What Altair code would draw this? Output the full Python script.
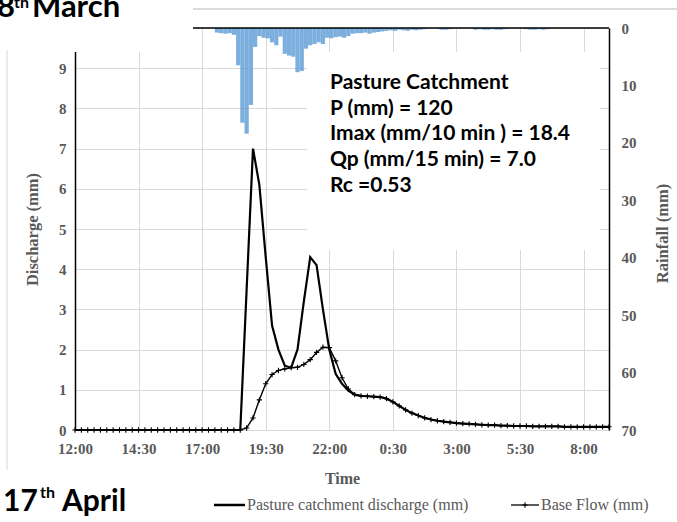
import altair as alt
import pandas as pd

# ---------------- data ----------------
# discharge / base flow every 15 min starting 12:00 (hours since 12:00)
discharge = [0.0] * 27 + [
    3.5, 7.0, 6.1, 4.3, 2.6, 2.0, 1.6, 1.55, 2.0, 3.2,
    4.3, 4.1, 3.0, 2.0, 1.4, 1.15, 0.98, 0.88, 0.85, 0.84,
    0.83, 0.82, 0.78, 0.70, 0.60, 0.50, 0.42, 0.36, 0.30, 0.26,
    0.23, 0.21, 0.19, 0.17, 0.16, 0.15, 0.14, 0.13, 0.12, 0.12,
    0.11, 0.11, 0.10, 0.10, 0.10, 0.09, 0.09, 0.09, 0.09, 0.09,
    0.08, 0.08, 0.08, 0.08, 0.08, 0.08, 0.08, 0.08,
]
baseflow = [0.0] * 27 + [
    0.05, 0.30, 0.75, 1.15, 1.38, 1.48, 1.52, 1.55, 1.56, 1.63,
    1.75, 1.93, 2.06, 2.05, 1.72, 1.30, 1.02, 0.88, 0.85, 0.84,
    0.83, 0.82, 0.78, 0.70, 0.60, 0.50, 0.42, 0.36, 0.30, 0.26,
    0.23, 0.21, 0.19, 0.17, 0.16, 0.15, 0.14, 0.13, 0.12, 0.12,
    0.11, 0.11, 0.10, 0.10, 0.10, 0.09, 0.09, 0.09, 0.09, 0.09,
    0.08, 0.08, 0.08, 0.08, 0.08, 0.08, 0.08, 0.08,
]
# rainfall every 10 min starting 17:30
rain = [
    0.8, 0.9, 1.0, 0.9, 1.2, 6.5, 16.5, 18.4, 13.4, 3.3,
    1.4, 1.7, 1.8, 2.5, 3.0, 1.5, 4.5, 4.8, 5.0, 7.7,
    7.5, 3.6, 3.0, 2.8, 2.5, 2.8, 1.7, 1.8, 1.6, 1.5,
    1.7, 1.4, 1.0, 0.9, 0.9, 0.8, 1.0, 0.8, 0.7, 0.6,
    0.5, 0.4, 0.5, 0.3, 0.4, 0.5, 0.3, 0.4, 0.3, 0.2,
    0.0, 0.0, 0.0, 0.3, 0.3, 0.2, 0.0, 0.0, 0.0, 0.0,
    0.0, 0.3, 0.2, 0.3, 0.3, 0.2, 0.3, 0.3, 0.2, 0.0,
    0.0, 0.0, 0.0, 0.2, 0.3, 0.3, 0.2, 0.3, 0.2,
]
rain_start_hour = 5.5          # 17:30
q_step_hours = 0.25            # 15 min
rain_step_hours = 1.0 / 6.0    # 10 min

x_tick_labels = ["12:00", "14:30", "17:00", "19:30", "22:00", "0:30", "3:00", "5:30", "8:00"]
x_tick_hours = [0, 2.5, 5, 7.5, 10, 12.5, 15, 17.5, 20]
y_left_ticks = [0, 1, 2, 3, 4, 5, 6, 7, 8, 9]
y_right_ticks = [0, 10, 20, 30, 40, 50, 60, 70]

series_names = ["Pasture catchment  discharge (mm)", "Base Flow (mm)"]
info_lines = [
    "Pasture Catchment",
    "P (mm) = 120",
    "Imax (mm/10 min ) = 18.4",
    "Qp (mm/15 min) = 7.0",
    "Rc =0.53",
]

flow_df = pd.DataFrame({
    "hour": [i * q_step_hours for i in range(len(discharge))],
    "Discharge": discharge,
    "Base": baseflow,
})
rain_df = pd.DataFrame({
    "start": [rain_start_hour + i * rain_step_hours for i in range(len(rain))],
    "rain": rain,
})
rain_df["end"] = rain_df["start"] + rain_step_hours

# ---------------- styles ----------------
W, H = 534, 402
SERIF = "Liberation Serif"
SANS = "Lato"
GREY = "#595959"
GRID = "#d9d9d9"
PLUS = "M0,-1V1M-1,0H1"

xscale = alt.Scale(domain=[0, 21], nice=False, zero=False)
label_expr = "[" + ",".join("'%s'" % s for s in x_tick_labels) + "][round(datum.value/2.5)]"

x_axis = alt.Axis(
    values=x_tick_hours, labelExpr=label_expr, title="Time",
    grid=True, gridColor=GRID, domainColor=GRID, ticks=False, labelFlush=False,
    labelFont=SERIF, labelFontSize=15, labelFontWeight="bold", labelColor=GREY,
    labelPadding=11, titleFont=SERIF, titleFontSize=16, titleFontWeight="bold",
    titleColor=GREY, titleX=267, titleY=48, titleBaseline="middle", titleAlign="center",
    zindex=0,
)
y_axis = alt.Axis(
    values=y_left_ticks, title="Discharge (mm)",
    grid=True, gridColor=GRID, domainColor="black", domainWidth=1.5, ticks=False,
    labelFont=SERIF, labelFontSize=15, labelFontWeight="bold", labelColor=GREY,
    labelPadding=9, labelFlush=False, titleFont=SERIF, titleFontSize=16.5, titleFontWeight="bold",
    titleColor=GREY, titleX=-43, titleY=201, titleAngle=270,
    titleBaseline="middle", titleAlign="center", zindex=0,
)
rain_axis = alt.Axis(
    orient="right", values=y_right_ticks, title="Rainfall (mm)",
    grid=False, domainColor="black", domainWidth=1.5, ticks=False,
    labelFont=SERIF, labelFontSize=15, labelFontWeight="bold", labelColor=GREY,
    labelPadding=12, labelFlush=False, titleFont=SERIF, titleFontSize=16.5, titleFontWeight="bold",
    titleColor=GREY, titleX=53, titleY=205, titleAngle=270,
    titleBaseline="middle", titleAlign="center", zindex=0,
)

one = pd.DataFrame({"k": [0]})

# white boxes (composite look of the original figure)
cover_top_left = alt.Chart(one).mark_rect(color="white").encode(
    x=alt.value(-2), x2=alt.value(118), y=alt.value(-1), y2=alt.value(24))
info_box = alt.Chart(one).mark_rect(color="white").encode(
    x=alt.value(232), x2=alt.value(525), y=alt.value(24), y2=alt.value(222))

top_grey = alt.Chart(one).mark_rule(color="#dcdcdc", strokeWidth=2).encode(
    x=alt.value(118), x2=alt.value(602), y=alt.value(-19))
left_grey = alt.Chart(one).mark_rule(color="#e3e3e3", strokeWidth=1.5).encode(
    x=alt.value(-68), y=alt.value(22), y2=alt.value(442))
top_black = alt.Chart(one).mark_rule(color="black", strokeWidth=1.5).encode(
    x=alt.value(118), x2=alt.value(534), y=alt.value(0))

bars = alt.Chart(rain_df).mark_bar(color="#5b9bd5", opacity=0.8).encode(
    x=alt.X("start:Q", scale=xscale, axis=x_axis),
    x2="end:Q",
    y=alt.Y("rain:Q", scale=alt.Scale(domain=[0, 70], reverse=True, nice=False), axis=rain_axis),
    y2=alt.datum(0),
)

yscale = alt.Scale(domain=[0, 10], nice=False)
q_line = alt.Chart(flow_df).mark_line(color="black", strokeWidth=2.2).encode(
    x=alt.X("hour:Q", scale=xscale, axis=x_axis),
    y=alt.Y("Discharge:Q", scale=yscale, axis=y_axis),
)
b_line = alt.Chart(flow_df).mark_line(color="black", strokeWidth=1.4).encode(
    x="hour:Q", y="Base:Q")
b_pts = alt.Chart(flow_df).mark_point(
    shape=PLUS, size=28, color="black", strokeWidth=1.1, filled=False, opacity=1
).encode(x="hour:Q", y="Base:Q")
flow = alt.layer(q_line, b_line, b_pts)

info = alt.Chart(pd.DataFrame({"t": ["\n".join(info_lines)]})).mark_text(
    align="left", baseline="top", font=SANS, fontSize=21, fontWeight="bold",
    color="black", lineBreak="\n", lineHeight=25.7,
).encode(x=alt.value(255), y=alt.value(44), text="t:N")

def txt(s, x, y, size, **kw):
    return alt.Chart(pd.DataFrame({"t": [s]})).mark_text(
        align="left", baseline="alphabetic", font=SANS, fontWeight="bold",
        fontSize=size, color="black", **kw
    ).encode(x=alt.value(x), y=alt.value(y), text="t:N")

title_top = [txt("8", -78, -11, 31), txt("th", -61, -20, 16), txt("March", -43, -11, 31)]
title_bot = [txt("17", -72, 483, 30), txt("th", -35, 470, 16), txt("April", -13, 483, 30)]

# legend
LEG = dict(align="left", baseline="middle", font=SERIF, fontSize=16, color=GREY)
leg_q_line = alt.Chart(one).mark_rule(color="black", strokeWidth=2.5).encode(
    x=alt.value(139), x2=alt.value(170), y=alt.value(477))
leg_q_text = alt.Chart(pd.DataFrame({"t": [series_names[0]]})).mark_text(**LEG).encode(
    x=alt.value(172), y=alt.value(477), text="t:N")
leg_b_line = alt.Chart(one).mark_rule(color="black", strokeWidth=1.3).encode(
    x=alt.value(436), x2=alt.value(464), y=alt.value(477))
leg_b_pt = alt.Chart(one).mark_point(shape=PLUS, size=28, color="black", strokeWidth=1.1,
                                     filled=False, opacity=1).encode(
    x=alt.value(450), y=alt.value(477))
leg_b_text = alt.Chart(pd.DataFrame({"t": [series_names[1]]})).mark_text(**LEG).encode(
    x=alt.value(466), y=alt.value(477), text="t:N")

chart = alt.layer(
    top_grey, left_grey, bars, flow, cover_top_left, info_box, top_black, info,
    *title_top, *title_bot,
    leg_q_line, leg_q_text, leg_b_line, leg_b_pt, leg_b_text,
).resolve_scale(y="independent").properties(
    width=W, height=H,
    autosize=alt.AutoSizeParams(type="none"),
    padding={"left": 75, "top": 28, "right": 68, "bottom": 92},
).configure_view(stroke=None).configure(background="white")

chart.save("out.html", embed_options={"renderer": "svg", "actions": False})
